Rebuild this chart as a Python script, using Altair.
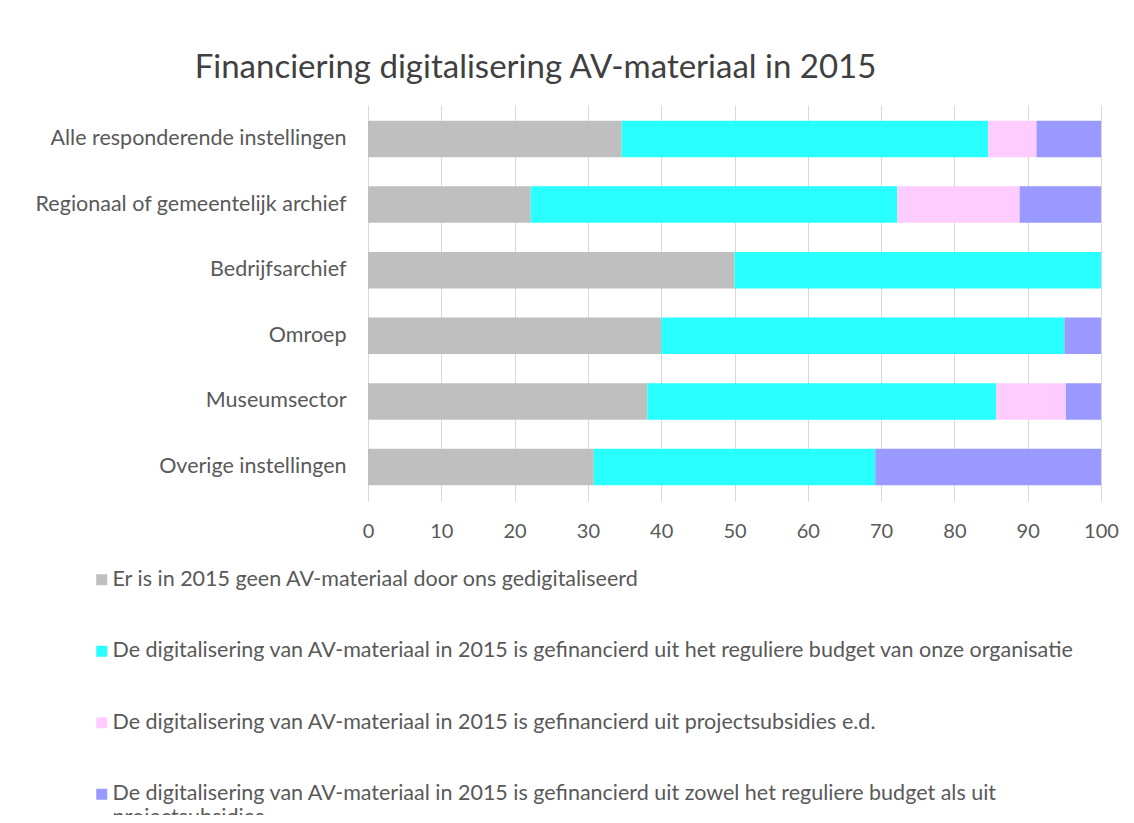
import altair as alt
import pandas as pd

categories = [
    "Alle responderende instellingen",
    "Regionaal of gemeentelijk archief",
    "Bedrijfsarchief",
    "Omroep",
    "Museumsector",
    "Overige instellingen",
]
series = [
    "Er is in 2015 geen AV-materiaal door ons gedigitaliseerd",
    "De digitalisering van AV-materiaal in 2015 is gefinancierd uit het reguliere budget van onze organisatie",
    "De digitalisering van AV-materiaal in 2015 is gefinancierd uit projectsubsidies e.d.",
    "De digitalisering van AV-materiaal in 2015 is gefinancierd uit zowel het reguliere budget als uit projectsubsidies",
]
geen = [34.6, 22.2, 50.0, 40.0, 38.1, 30.8]
regulier = [50.0, 50.0, 50.0, 55.0, 47.6, 38.4]
project = [6.6, 16.7, 0.0, 0.0, 9.5, 0.0]
beide = [8.8, 11.1, 0.0, 5.0, 4.8, 30.8]
colors = ["#BFBFBF", "#29FFFF", "#FFCCFF", "#9999FF"]

rows = []
for si, (name, vals) in enumerate(zip(series, [geen, regulier, project, beide])):
    for cat, v in zip(categories, vals):
        rows.append({"categorie": cat, "reeks": name, "waarde": v, "volgorde": si})
df = pd.DataFrame(rows)

font = "Lato"
txt = "#595959"

last = series[3]
label_expr = (
    "datum.label == '" + last + "' ? "
    "['De digitalisering van AV-materiaal in 2015 is gefinancierd uit zowel het reguliere budget als uit', 'projectsubsidies']"
    " : datum.label"
)

chart = (
    alt.Chart(df)
    .mark_bar()
    .encode(
        y=alt.Y(
            "categorie:N",
            sort=categories,
            title=None,
            scale=alt.Scale(paddingInner=0.445, paddingOuter=0.24),
            axis=alt.Axis(
                ticks=False,
                domain=False,
                labelFont=font,
                labelFontSize=21.5,
                labelColor=txt,
                labelPadding=22,
                labelLimit=400,
            ),
        ),
        x=alt.X(
            "waarde:Q",
            stack="zero",
            title=None,
            scale=alt.Scale(domain=[0, 100], nice=False),
            axis=alt.Axis(
                values=[0, 10, 20, 30, 40, 50, 60, 70, 80, 90, 100],
                grid=True,
                gridColor="#D9D9D9",
                ticks=False,
                domain=False,
                labelFlush=False,
                labelFont=font,
                labelFontSize=20,
                labelColor=txt,
                labelPadding=20,
            ),
        ),
        color=alt.Color(
            "reeks:N",
            scale=alt.Scale(domain=series, range=colors),
            sort=series,
            legend=alt.Legend(
                title=None,
                orient="none",
                legendX=-277,
                legendY=464,
                direction="vertical",
                symbolType="square",
                symbolSize=121,
                symbolStrokeWidth=0,
                labelFont=font,
                labelFontSize=21.5,
                labelColor=txt,
                labelOffset=0,
                labelLimit=1100,
                rowPadding=48.5,
                labelExpr=label_expr,
            ),
        ),
        order=alt.Order("volgorde:Q"),
    )
    .properties(
        width=733,
        height=396,
        padding={"left": 360, "top": 97, "right": 25, "bottom": 314},
        autosize=alt.AutoSizeParams(type="none"),
        background="white",
        title=alt.TitleParams(
            "Financiering digitalisering AV-materiaal in 2015",
            font=font,
            fontSize=33,
            fontWeight="normal",
            color="#404040",
            anchor="middle",
            dx=-199,
            offset=20,
        ),
    )
    .configure_view(stroke=None)
)

chart.save("out.html", embed_options={"renderer": "svg", "actions": False})
